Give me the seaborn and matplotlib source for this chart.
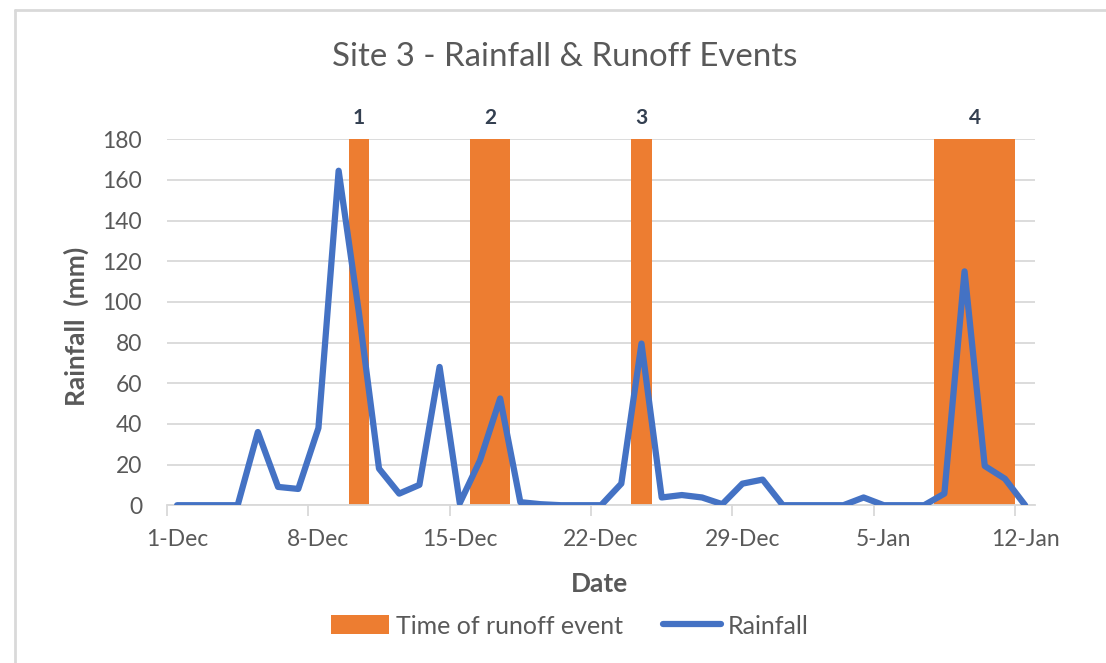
import matplotlib
matplotlib.use("Agg")
from matplotlib import pyplot as plt
from matplotlib.lines import Line2D
from matplotlib.patches import Patch
import pandas as pd
import seaborn as sns

# Data (1-Dec .. 12-Jan, one value per day)
days = list(range(43))
rainfall = [0, 0, 0, 0, 36, 9, 8, 38, 164.5, 95, 18, 5.7, 10, 68, 1, 22, 52.5, 1.5,
            0.5, 0, 0, 0, 10.6, 79.5, 3.8, 5, 3.8, 0.5, 10.6, 12.6, 0, 0, 0, 0,
            3.8, 0, 0, 0, 5.7, 115, 19.3, 13, 0]
runoff = [0, 0, 0, 0, 0, 0, 0, 0, 0, 180, 0, 0, 0, 0, 0, 180, 180, 0, 0, 0, 0, 0,
          0, 180, 0, 0, 0, 0, 0, 0, 0, 0, 0, 0, 0, 0, 0, 0, 180, 180, 180, 180, 0]
event_labels = ["1", "2", "3", "4"]
tick_days = [0, 7, 14, 21, 28, 35, 42]
tick_labels = ["1-Dec", "8-Dec", "15-Dec", "22-Dec", "29-Dec", "5-Jan", "12-Jan"]

df = pd.DataFrame({"day": days, "rainfall": rainfall, "runoff": runoff})

sns.set_style("white")
plt.rcParams["font.family"] = ["Lato", "DejaVu Sans"]
grey = "#595959"
orange = "#ED7D31"
blue = "#4472C4"

fig = plt.figure(figsize=(11.06, 6.63), dpi=100)
ax = fig.add_axes([0.151, 0.238, 0.785, 0.552])

sns.barplot(data=df, x="day", y="runoff", color=orange, saturation=1, width=1.0,
            linewidth=0, ax=ax, zorder=2)
sns.lineplot(data=df, x="day", y="rainfall", color=blue, linewidth=4.5, ax=ax,
             zorder=3, solid_joinstyle="round", solid_capstyle="round")

ax.set_xlim(-0.5, 42.5)
ax.set_ylim(0, 180)
ax.set_yticks(range(0, 181, 20))
ax.yaxis.grid(True, color="#d9d9d9", linewidth=1.3, zorder=0)
ax.set_axisbelow(True)
ax.set_xticks(tick_days)
ax.set_xticklabels(tick_labels)
ax.set_xticks([d - 0.5 for d in tick_days], minor=True)
ax.tick_params(axis="x", which="major", length=0, pad=17, labelsize=16.5, labelcolor=grey)
ax.tick_params(axis="x", which="minor", length=8, width=1.3, color="#d9d9d9", bottom=True)
ax.tick_params(axis="y", length=0, pad=18, labelsize=16.5, labelcolor=grey)
for s in ["top", "right", "left"]:
    ax.spines[s].set_visible(False)
ax.spines["bottom"].set_color("#d9d9d9")
ax.spines["bottom"].set_linewidth(1.3)

ax.set_xlabel("Date", fontsize=19, fontweight="bold", color=grey)
ax.set_ylabel("Rainfall  (mm)", fontsize=19, fontweight="bold", color=grey)
ax.xaxis.set_label_coords(0.498, -0.183)
ax.yaxis.set_label_coords(-0.090, 0.49)

# event numbers above each run of runoff bars
runs = []
start = None
for d, v in zip(days, runoff):
    if v > 0 and start is None:
        start = d
    if v == 0 and start is not None:
        runs.append((start, d - 1))
        start = None
for lab, (a, b) in zip(event_labels, runs):
    ax.text((a + b) / 2, 190.5, lab, ha="center", va="center", fontsize=15,
            fontweight="bold", color="#333f50", clip_on=False)

fig.text(565 / 1106, 1 - 57 / 663, "Site 3 - Rainfall & Runoff Events",
         ha="center", va="center", fontsize=23.8, color=grey)

handles = [Patch(facecolor=orange, edgecolor="none"),
           Line2D([0], [0], color=blue, linewidth=4.5, solid_capstyle="round")]
leg = fig.legend(handles, ["Time of runoff event", "Rainfall"], loc="center",
                 bbox_to_anchor=(570 / 1106, 1 - 626 / 663), ncol=2, frameon=False,
                 fontsize=18, handlelength=2.3, handleheight=0.8, columnspacing=1.6,
                 handletextpad=0.3)
for t in leg.get_texts():
    t.set_color(grey)

# chart area border (only top and left visible in the crop)
fig.add_artist(Line2D([15 / 1106, 15 / 1106], [0, 1 - 10 / 663],
                      transform=fig.transFigure, color="#d9d9d9", linewidth=2))
fig.add_artist(Line2D([15 / 1106, 1], [1 - 10 / 663, 1 - 10 / 663],
                      transform=fig.transFigure, color="#d9d9d9", linewidth=2))

fig.savefig("out.png", dpi=100)
